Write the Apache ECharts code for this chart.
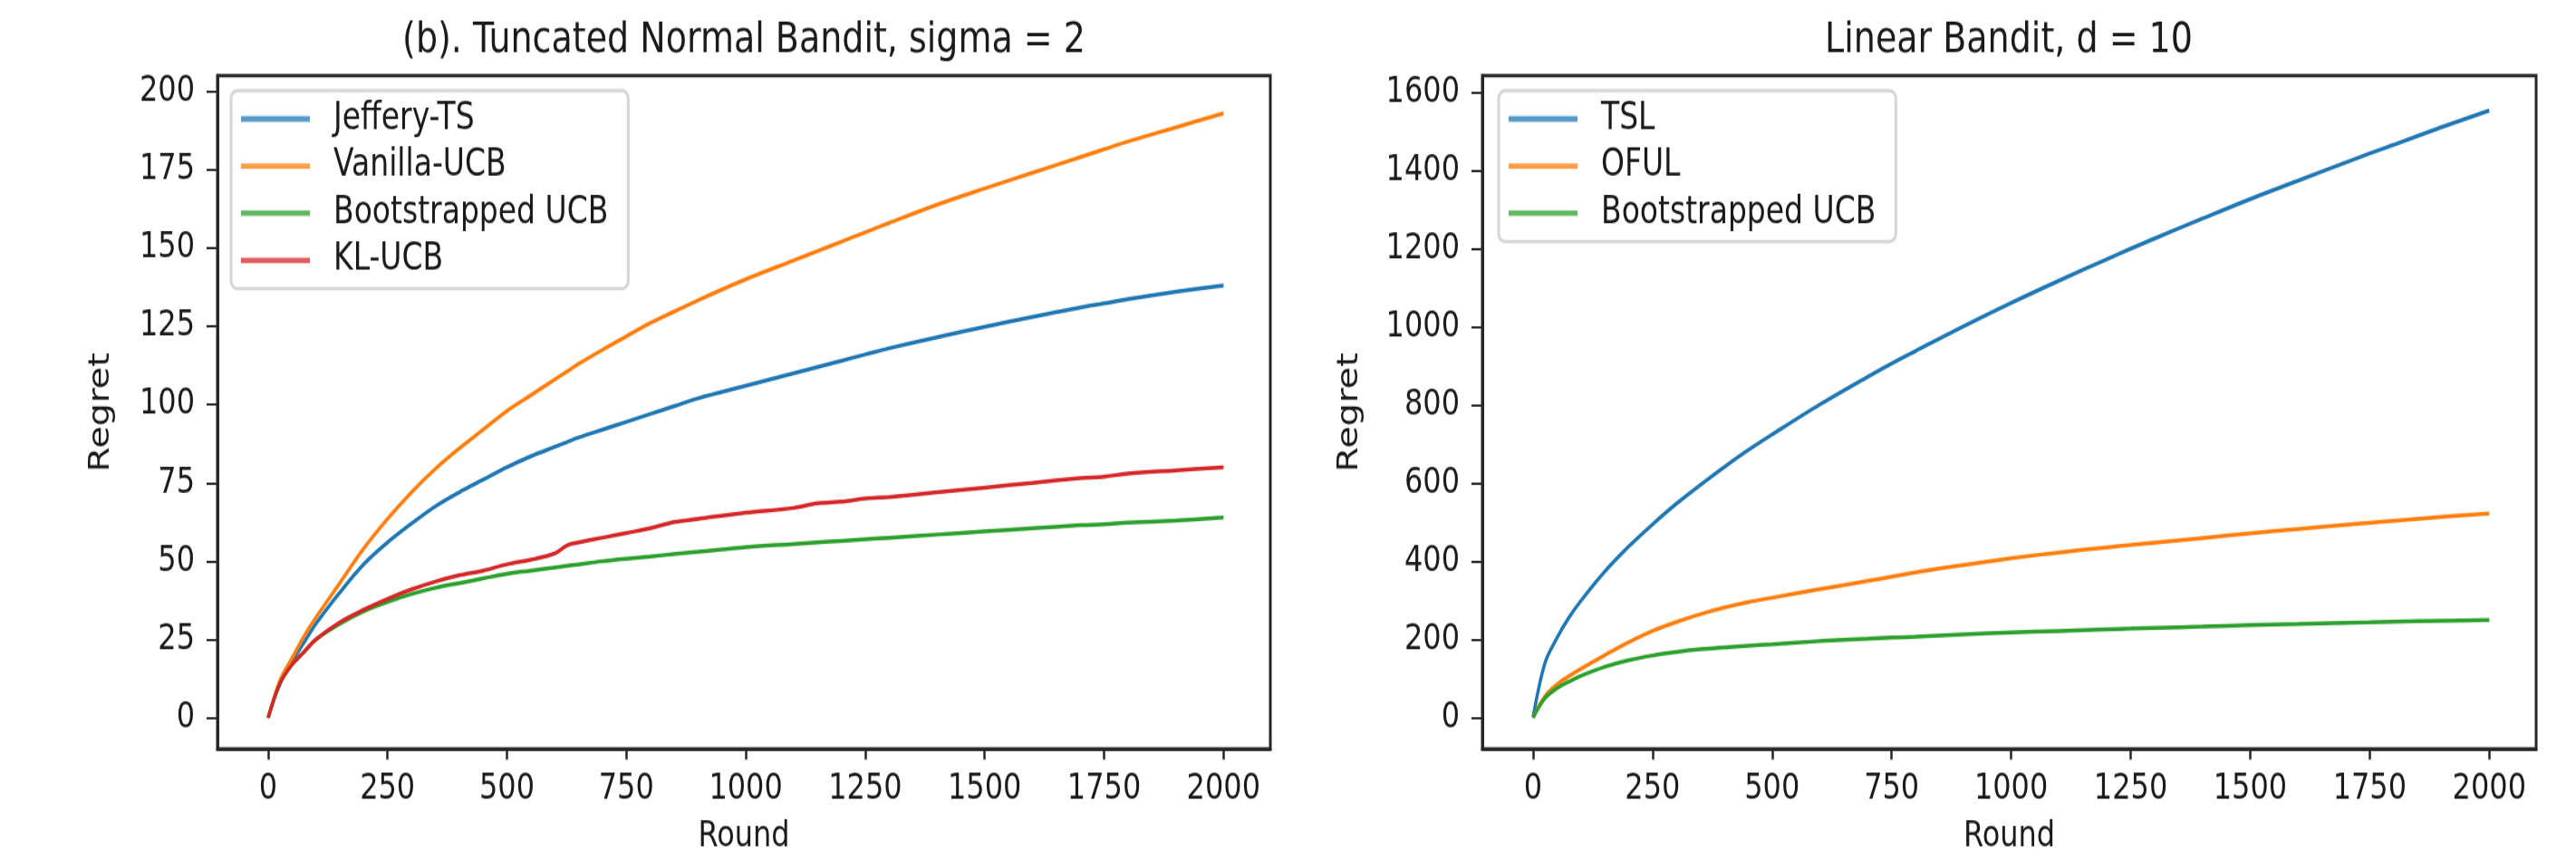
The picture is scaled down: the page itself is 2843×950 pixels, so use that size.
<!DOCTYPE html>
<html>
<head>
<meta charset="utf-8">
<script src="https://cdn.jsdelivr.net/npm/echarts@6/dist/echarts.min.js"></script>
<style>
  html, body { margin: 0; padding: 0; background: #fff; overflow: hidden; }
  #wrap { position: absolute; left: 0; top: 0; width: 2843px; height: 950px; overflow: hidden; }
  /* the reference figure is stretched vertically, so the chart is laid out
     at 760 px high and scaled up by 1.25 */
  #main { position: absolute; left: 0; top: 0; width: 2843px; height: 760px; transform: scale(1, 1.25); transform-origin: 0 0; }
</style>
</head>
<body>
<div id="wrap"><div id="main"></div></div>
<script>
// ---- left panel: truncated normal bandit ----
var roundsA = [0, 25, 50, 75, 100, 150, 200, 250, 300, 350, 400, 450, 500, 550, 600, 625, 650, 700, 750, 800, 850, 900, 1000, 1100, 1150, 1200, 1250, 1300, 1400, 1500, 1600, 1700, 1750, 1800, 1900, 2000];
var jefferyTS = [0, 11, 18, 24, 30, 40, 49, 56, 62, 67.5, 72, 76, 80, 83.5, 86.5, 88, 89.5, 92, 94.5, 97, 99.5, 102, 106, 110, 112, 114, 116, 118, 121.5, 124.8, 128, 131, 132.3, 133.7, 136, 138];
var vanillaUCB = [0, 12, 19, 26, 32, 43, 54, 63.5, 72, 79.5, 86, 92, 98, 103, 108, 110.5, 113, 117.5, 121.8, 126, 129.7, 133.3, 140, 146, 149, 152, 155, 158, 163.8, 169, 174, 179, 181.5, 184, 188.5, 193];
var bootUCB_A = [0, 11, 17, 21, 25, 30, 34, 37, 39.5, 41.5, 43, 44.5, 46, 47, 48, 48.5, 49, 50, 50.8, 51.5, 52.3, 53, 54.5, 55.5, 56, 56.5, 57, 57.5, 58.5, 59.5, 60.5, 61.5, 61.8, 62.3, 63, 64];
var klUCB = [0, 11, 17, 21, 25, 30.5, 34.5, 38, 41, 43.5, 45.5, 47, 49, 50.5, 52.5, 55, 56, 57.5, 59, 60.5, 62.5, 63.5, 65.5, 67, 68.5, 69, 70, 70.5, 72, 73.5, 75, 76.5, 77, 78, 79, 80];
var yTicksA = [0, 25, 50, 75, 100, 125, 150, 175, 200];

// ---- right panel: linear bandit ----
var roundsB = [0, 25, 50, 75, 100, 150, 200, 250, 300, 350, 400, 450, 500, 600, 700, 750, 800, 900, 1000, 1100, 1200, 1250, 1300, 1400, 1500, 1600, 1700, 1750, 1800, 1900, 2000];
var tsl = [0, 140, 204, 256, 299, 374, 438, 495, 548, 596, 642, 685, 725, 802, 873, 907, 939, 1002, 1062, 1119, 1174, 1201, 1227, 1278, 1328, 1375, 1422, 1445, 1467, 1512, 1555];
var oful = [0, 55, 85, 106, 125, 160, 193, 222, 245, 265, 282, 296, 307, 329, 350, 361, 372, 391, 408, 423, 436, 442, 448, 460, 472, 483, 494, 499, 504, 514, 523];
var bootUCB_B = [0, 50, 75, 92, 107, 130, 147, 159, 168, 175, 180, 184, 188, 196, 202, 205, 207, 213, 218, 222, 226, 228, 230, 233, 237, 240, 243, 244, 246, 248, 250];
var yTicksB = [0, 200, 400, 600, 800, 1000, 1200, 1400, 1600];

var xTicks = [0, 250, 500, 750, 1000, 1250, 1500, 1750, 2000];

var FONT = 'DejaVu Sans';
var INK = '#1a1a1a';
var SPINE = '#262626';

function pairs(xs, ys) {
    return xs.map(function (x, i) { return [x, ys[i]]; });
}

function plain(v) {
    return String(v);
}

function lineSeries(name, color, xs, ys, idx) {
    return {
        name: name,
        type: 'line',
        xAxisIndex: idx,
        yAxisIndex: idx,
        data: pairs(xs, ys),
        showSymbol: false,
        symbol: 'none',
        smooth: 0.35,
        color: color,
        lineStyle: { width: 3.5, color: color },
        emphasis: { disabled: true }
    };
}

function xAxis(idx) {
    return {
        type: 'value',
        gridIndex: idx,
        min: -106,
        max: 2098,
        name: 'Round',
        nameLocation: 'middle',
        nameGap: 62,
        nameTextStyle: { fontFamily: FONT, fontSize: 32, color: INK },
        axisLine: { show: true, onZero: false, lineStyle: { color: SPINE, width: 3 } },
        axisTick: { show: true, customValues: xTicks, length: 9.6, lineStyle: { color: SPINE, width: 2.5 } },
        axisLabel: { customValues: xTicks, formatter: plain, margin: 20, fontFamily: FONT, fontSize: 32, color: INK },
        splitLine: { show: false }
    };
}

function yAxis(idx, ticks, min, max, gap) {
    return {
        type: 'value',
        gridIndex: idx,
        min: min,
        max: max,
        name: 'Regret',
        nameLocation: 'middle',
        nameGap: gap,
        nameTextStyle: { fontFamily: FONT, fontSize: 32, color: INK },
        axisLine: { show: true, onZero: false, lineStyle: { color: SPINE, width: 3 } },
        axisTick: { show: true, customValues: ticks, length: 12, lineStyle: { color: SPINE, width: 2 } },
        axisLabel: { customValues: ticks, formatter: plain, margin: 25, fontFamily: FONT, fontSize: 32, color: INK },
        splitLine: { show: false }
    };
}

function legend(names, left) {
    return {
        orient: 'vertical',
        left: left,
        top: 80,
        data: names,
        icon: 'rect',
        itemWidth: 76,
        itemHeight: 4.8,
        itemGap: 7.6,
        padding: [8, 22, 8, 11],
        backgroundColor: 'rgba(255,255,255,0.8)',
        borderColor: '#d6d6d6',
        borderWidth: 3,
        borderRadius: 7,
        itemStyle: { opacity: 0.75 },
        textStyle: { fontFamily: FONT, fontSize: 33, color: INK, lineHeight: 34, padding: [0, 0, 0, 21] }
    };
}

var chart = echarts.init(document.getElementById('main'), null, { renderer: 'canvas', width: 2843, height: 760 });

var option = {
    backgroundColor: '#fff',
    animation: false,
    title: [
        { text: '(b). Tuncated Normal Bandit, sigma = 2', left: 821, top: 17, textAlign: 'center', padding: 0,
          textStyle: { fontFamily: FONT, fontSize: 38, fontWeight: 'normal', color: INK } },
        { text: 'Linear Bandit, d = 10', left: 2217, top: 17, textAlign: 'center', padding: 0,
          textStyle: { fontFamily: FONT, fontSize: 38, fontWeight: 'normal', color: INK } }
    ],
    legend: [
        legend(['Jeffery-TS', 'Vanilla-UCB', 'Bootstrapped UCB', 'KL-UCB'], 255),
        legend(['TSL', 'OFUL', 'Bootstrapped UCB'], 1654)
    ],
    grid: [
        { left: 240, top: 66.8, width: 1162, height: 605.2, show: true, borderColor: SPINE, borderWidth: 3, backgroundColor: 'transparent' },
        { left: 1636, top: 66.8, width: 1163, height: 605.2, show: true, borderColor: SPINE, borderWidth: 3, backgroundColor: 'transparent' }
    ],
    xAxis: [xAxis(0), xAxis(1)],
    yAxis: [yAxis(0, yTicksA, -9.9, 205, 112), yAxis(1, yTicksB, -80, 1644, 130)],
    series: [
        lineSeries('Jeffery-TS', '#1f77b4', roundsA, jefferyTS, 0),
        lineSeries('Vanilla-UCB', '#ff7f0e', roundsA, vanillaUCB, 0),
        lineSeries('Bootstrapped UCB', '#2ca02c', roundsA, bootUCB_A, 0),
        lineSeries('KL-UCB', '#d62728', roundsA, klUCB, 0),
        lineSeries('TSL', '#1f77b4', roundsB, tsl, 1),
        lineSeries('OFUL', '#ff7f0e', roundsB, oful, 1),
        lineSeries('Bootstrapped UCB', '#2ca02c', roundsB, bootUCB_B, 1)
    ]
};

chart.setOption(option);
</script>
</body>
</html>
